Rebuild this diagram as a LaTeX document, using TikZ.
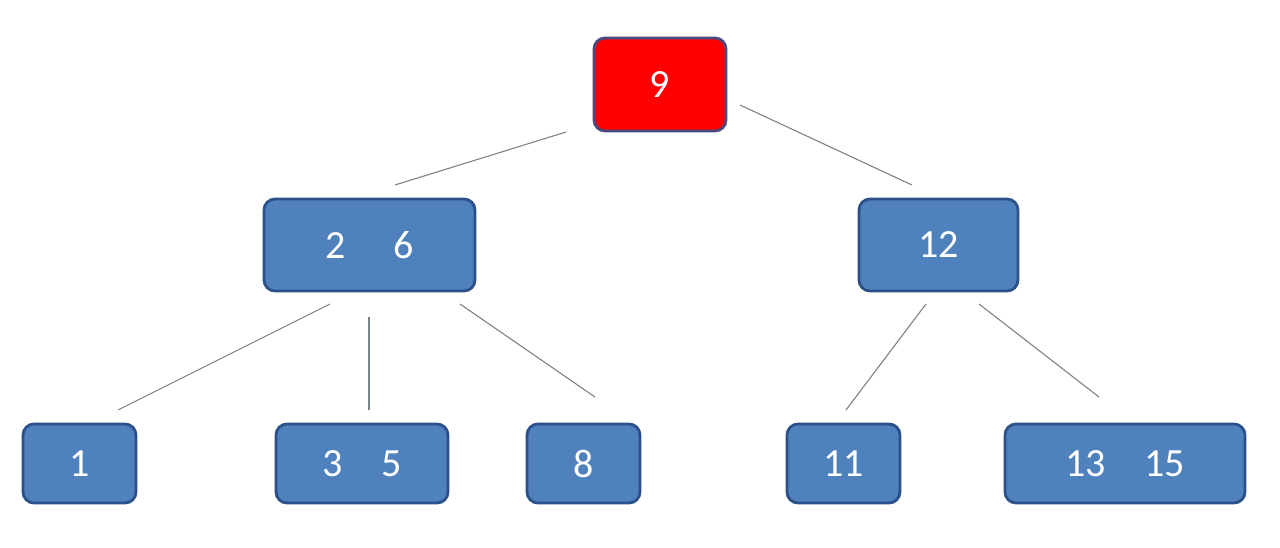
\documentclass[tikz,border=0pt]{standalone}
\usepackage{fontspec}
\setmainfont{Carlito}
\definecolor{boxblue}{HTML}{4F81BD}
\definecolor{boxedge}{HTML}{2C5089}
\definecolor{rootedge}{HTML}{4A4A80}
\definecolor{linkgray}{HTML}{7A8488}
\tikzset{
  treebox/.style={draw=boxedge, line width=2.8pt, fill=boxblue, rounded corners=11pt,
    text=white, font=\fontsize{40}{44}\selectfont, inner sep=0pt, anchor=center},
  rootbox/.style={treebox, fill=red, draw=rootedge},
  link/.style={draw=linkgray, line width=1.1pt}
}
\begin{document}
\begin{tikzpicture}[x=1pt,y=-1pt]
\useasboundingbox (0,0) rectangle (1280,548);
\fill[white] (0,0) rectangle (1280,548);
\node[rootbox, minimum width=132pt, minimum height=93pt] (n9) at (660,84.5) {9};
\node[treebox, minimum width=211pt, minimum height=92pt] (n26) at (369.5,245) {2\hspace{48pt}6};
\node[treebox, minimum width=159pt, minimum height=92pt] (n12) at (938.5,245) {12};
\node[treebox, minimum width=113pt, minimum height=79pt] (n1) at (79.5,463.5) {1};
\node[treebox, minimum width=172pt, minimum height=79pt] (n35) at (362,463.5) {3\hspace{38pt}5};
\node[treebox, minimum width=113pt, minimum height=79pt] (n8) at (583.5,463.5) {8};
\node[treebox, minimum width=113pt, minimum height=79pt] (n11) at (843.5,463.5) {11};
\node[treebox, minimum width=240pt, minimum height=79pt] (n1315) at (1125,463.5) {13\hspace{38pt}15};
% connector end points (the lines stop short of the boxes)
\coordinate (a1) at (566,132); \coordinate (a2) at (395,185);
\coordinate (b1) at (740,105); \coordinate (b2) at (912,185);
\coordinate (c1) at (330,304); \coordinate (c2) at (118,410);
\coordinate (d1) at (369,317); \coordinate (d2) at (369,410);
\coordinate (e1) at (460,304); \coordinate (e2) at (595,397);
\coordinate (f1) at (926,304); \coordinate (f2) at (846,410);
\coordinate (g1) at (979,304); \coordinate (g2) at (1099,397);
\draw[link] (a1) -- (a2);
\draw[link] (b1) -- (b2);
\draw[link] (c1) -- (c2);
\draw[link] (d1) -- (d2);
\draw[link] (e1) -- (e2);
\draw[link] (f1) -- (f2);
\draw[link] (g1) -- (g2);
\end{tikzpicture}
\end{document}
